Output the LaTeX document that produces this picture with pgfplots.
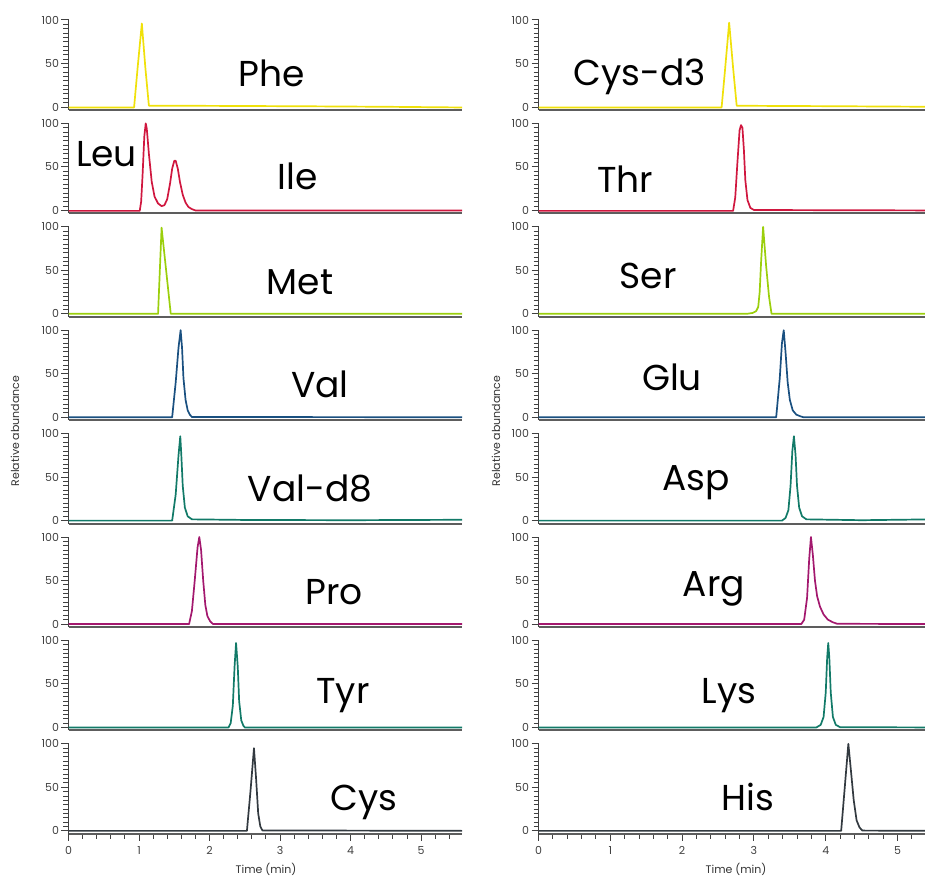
\documentclass[border=0pt]{standalone}
\usepackage{pgfplots}
\pgfplotsset{compat=1.18}
\usepackage{fontspec}
\setmainfont{Poppins}
\definecolor{cyel}{HTML}{F0E10A}
\definecolor{cred}{HTML}{D0173F}
\definecolor{clime}{HTML}{9BCF0C}
\definecolor{cblue}{HTML}{1A5080}
\definecolor{cteal}{HTML}{127A68}
\definecolor{cpurp}{HTML}{A3186E}
\definecolor{cgray}{HTML}{333A40}
\definecolor{axc}{HTML}{404040}
\pgfplotsset{
  panel/.style={
    scale only axis, width=393.5pt, height=90pt,
    anchor=north west,
    xmin=0, ymin=-3.4, ymax=100,
    axis x line*=bottom, axis y line*=left,
    x axis line style={-, draw=axc!85, line width=2pt},
    y axis line style={-, draw=axc, line width=1.2pt},
    ytick={0,50,100}, minor ytick={5,10,...,95},
    xtick=\empty,
    tick align=outside,
    major tick length=7pt, minor tick length=5pt,
    every tick/.style={draw=axc, line width=1pt},
    tick label style={font=\fontsize{11}{11}\selectfont, text=black!75},
    yticklabel style={xshift=1pt},
    /pgf/number format/assume math mode=true,
    clip=false,
  },
  bottompanel/.style={
    xtick={0,1,2,3,4,5}, minor xtick={0.2,0.4,...,5.4},
    xticklabel style={yshift=-2pt},
  },
  tr/.style={line width=1.7pt, line join=round, no markers},
}
\newcommand{\lab}[3]{\node[anchor=base, font=\fontsize{36}{36}\selectfont, text=black] at (#1pt,-#2pt) {#3};}
\begin{document}
\begin{tikzpicture}
\path[use as bounding box] (0,0) rectangle (925pt,-877pt);
% ---------- left column ----------
\begin{axis}[panel, at={(68.5pt,-20pt)}, xmax=5.58]
\addplot[tr, cyel] coordinates {(0,-0.5) (0.93,-0.5) (0.98,45) (1.04,96) (1.09,45) (1.14,1.5) (1.5,1.5) (2.5,1.2) (3.5,0.8) (4.5,0.3) (5.58,-0.5)};
\end{axis}
\begin{axis}[panel, at={(68.5pt,-123.4pt)}, xmax=5.58]
\addplot[tr, cred] coordinates {(0,-0.5) (1.01,-0.5) (1.03,10) (1.05,40) (1.075,85) (1.095,100) (1.11,94) (1.14,65) (1.18,33) (1.22,16) (1.27,8) (1.32,5) (1.36,6) (1.40,13) (1.44,31) (1.47,48) (1.50,57) (1.52,57) (1.55,48) (1.58,33) (1.62,18) (1.66,9) (1.70,4) (1.75,1.5) (1.80,0) (5.58,0)};
\end{axis}
\begin{axis}[panel, at={(68.5pt,-226.8pt)}, xmax=5.58]
\addplot[tr, clime] coordinates {(0,0) (1.27,0) (1.32,99) (1.45,0) (5.58,0)};
\end{axis}
\begin{axis}[panel, at={(68.5pt,-330.2pt)}, xmax=5.58]
\addplot[tr, cblue] coordinates {(0,0) (1.47,0) (1.52,40) (1.56,80) (1.59,100) (1.61,80) (1.63,45) (1.66,20) (1.69,8) (1.72,3) (1.75,0.3) (5.58,0)};
\end{axis}
\begin{axis}[panel, at={(68.5pt,-433.6pt)}, xmax=5.58]
\addplot[tr, cteal] coordinates {(0,0) (1.47,0) (1.52,30) (1.56,75) (1.585,97) (1.60,75) (1.62,40) (1.65,15) (1.69,5) (1.75,1.5) (2.5,0.8) (4,0.5) (5.58,1)};
\end{axis}
\begin{axis}[panel, at={(68.5pt,-537pt)}, xmax=5.58]
\addplot[tr, cpurp] coordinates {(0,0) (1.71,0) (1.75,15) (1.79,50) (1.83,88) (1.855,100) (1.88,85) (1.91,50) (1.94,22) (1.97,9) (2.01,3) (2.05,0) (5.58,0)};
\end{axis}
\begin{axis}[panel, at={(68.5pt,-640.4pt)}, xmax=5.58]
\addplot[tr, cteal] coordinates {(0,0) (2.27,0) (2.30,5) (2.33,25) (2.355,70) (2.376,97) (2.40,70) (2.42,30) (2.45,8) (2.48,2) (2.50,0) (5.58,0)};
\end{axis}
\begin{axis}[panel, bottompanel, at={(68.5pt,-743.8pt)}, xmax=5.58]
\addplot[tr, cgray] coordinates {(0,0) (2.53,0) (2.58,45) (2.63,95) (2.66,60) (2.69,20) (2.72,5) (2.75,0.5) (5.58,0)};
\end{axis}
% ---------- right column ----------
\begin{axis}[panel, at={(538.5pt,-20pt)}, xmax=5.48]
\addplot[tr, cyel] coordinates {(0,-0.5) (2.55,-0.5) (2.60,45) (2.655,97) (2.71,45) (2.76,1.5) (3.2,1.3) (4,1) (5.48,0.3)};
\end{axis}
\begin{axis}[panel, at={(538.5pt,-123.4pt)}, xmax=5.48]
\addplot[tr, cred] coordinates {(0,-0.5) (2.71,-0.5) (2.74,15) (2.77,55) (2.80,92) (2.82,98) (2.84,95) (2.86,70) (2.88,35) (2.91,12) (2.95,3) (3.0,0.5) (5.48,0)};
\end{axis}
\begin{axis}[panel, at={(538.5pt,-226.8pt)}, xmax=5.48]
\addplot[tr, clime] coordinates {(0,0) (2.90,0) (2.98,1) (3.03,3) (3.06,8) (3.08,25) (3.10,60) (3.128,100) (3.17,55) (3.21,20) (3.245,0) (5.48,0)};
\end{axis}
\begin{axis}[panel, at={(538.5pt,-330.2pt)}, xmax=5.48]
\addplot[tr, cblue] coordinates {(0,0) (3.31,0) (3.36,45) (3.39,85) (3.415,100) (3.44,75) (3.47,40) (3.50,20) (3.54,8) (3.59,3) (3.65,1) (3.69,0) (5.48,0)};
\end{axis}
\begin{axis}[panel, at={(538.5pt,-433.6pt)}, xmax=5.48]
\addplot[tr, cteal] coordinates {(0,0) (3.39,0) (3.44,3) (3.48,12) (3.51,40) (3.535,80) (3.557,97) (3.58,75) (3.60,40) (3.63,15) (3.67,5) (3.73,1.5) (4.5,0.5) (5.48,1.5)};
\end{axis}
\begin{axis}[panel, at={(538.5pt,-537pt)}, xmax=5.48]
\addplot[tr, cpurp] coordinates {(0,0) (3.66,0) (3.70,5) (3.74,30) (3.77,75) (3.794,100) (3.82,80) (3.85,50) (3.88,32) (3.92,20) (3.97,11) (4.03,5) (4.10,2) (4.16,0.3) (5.48,0)};
\end{axis}
\begin{axis}[panel, at={(538.5pt,-640.4pt)}, xmax=5.48]
\addplot[tr, cteal] coordinates {(0,0) (3.87,0) (3.93,3) (3.97,12) (4.00,40) (4.02,80) (4.035,97) (4.05,80) (4.07,40) (4.10,12) (4.14,3) (4.20,0.3) (5.48,0)};
\end{axis}
\begin{axis}[panel, bottompanel, at={(538.5pt,-743.8pt)}, xmax=5.48]
\addplot[tr, cgray] coordinates {(0,0) (4.215,0) (4.265,50) (4.315,100) (4.35,70) (4.39,35) (4.43,12) (4.47,4) (4.51,0.3) (5.48,0)};
\end{axis}
% ---------- labels ----------
\lab{272}{86.7}{Phe}
\lab{106.5}{166.7}{Leu}
\lab{298}{190}{Ile}
\lab{300}{294}{Met}
\lab{320}{397.7}{Val}
\lab{310}{501}{Val-d8}
\lab{334}{604.3}{Pro}
\lab{343}{703}{Tyr}
\lab{364}{810}{Cys}
\lab{640}{86}{Cys-d3}
\lab{625}{192.7}{Thr}
\lab{648}{288.3}{Ser}
\lab{672}{390}{Glu}
\lab{696}{490}{Asp}
\lab{714}{596.7}{Arg}
\lab{729}{703}{Lys}
\lab{748}{810.7}{His}
\node[rotate=90, font=\fontsize{11}{11}\selectfont, text=black!80] at (15pt,-431pt) {Relative abundance};
\node[rotate=90, font=\fontsize{11}{11}\selectfont, text=black!80] at (496pt,-431pt) {Relative abundance};
\node[font=\fontsize{11}{11}\selectfont, text=black!80, inner sep=0pt] at (266pt,-869pt) {Time (min)};
\node[font=\fontsize{11}{11}\selectfont, text=black!80, inner sep=0pt] at (736pt,-869pt) {Time (min)};
\end{tikzpicture}
\end{document}
